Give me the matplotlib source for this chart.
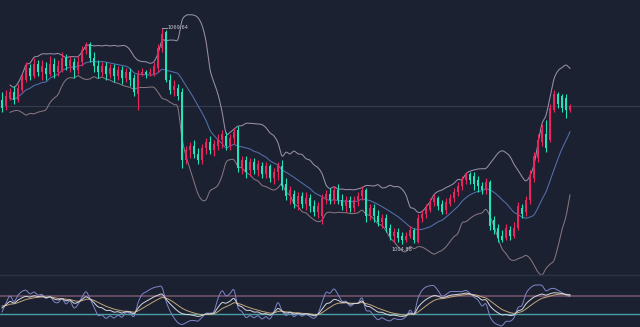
import numpy as np
import pandas as pd
import matplotlib
matplotlib.use("Agg")
import matplotlib.pyplot as plt

# ---- data ----
opens = [1048.0,1046.2,1048.6,1050.4,1048.0,1051.0,1054.0,1057.6,1055.2,1058.8,
         1056.4,1057.6,1055.8,1058.8,1056.4,1057.0,1060.6,1058.2,1059.4,1057.0,
         1059.4,1063.0,1064.8,1060.6,1058.2,1056.4,1058.2,1055.8,1057.6,1055.2,
         1057.0,1054.6,1056.4,1054.6,1049.8,1055.8,1056.4,1055.8,1055.8,1057.6,
         1063.6,1068.4,1054.0,1051.0,1051.6,1050.4,1030.0,1033.0,1034.2,1031.8,
         1030.0,1033.6,1035.4,1033.0,1034.2,1036.0,1037.2,1034.2,1036.6,1039.0,
         1027.6,1030.0,1027.0,1029.4,1027.0,1028.2,1025.8,1028.2,1024.6,1026.4,
         1028.2,1022.8,1019.2,1019.8,1016.8,1019.2,1016.8,1018.6,1016.2,1014.4,
         1013.2,1018.6,1019.8,1018.0,1021.0,1018.0,1016.2,1018.0,1015.6,1018.0,
         1019.2,1021.0,1013.2,1015.6,1013.2,1011.4,1012.6,1009.6,1007.2,1008.4,
         1007.2,1006.0,1007.2,1009.0,1005.4,1012.6,1013.8,1015.0,1017.4,1018.6,
         1016.8,1015.0,1016.8,1018.6,1020.4,1022.2,1024.0,1025.8,1025.2,1024.0,
         1022.2,1021.0,1023.4,1012.0,1009.6,1007.2,1006.6,1009.0,1007.2,1009.6,
         1015.6,1014.4,1018.0,1024.6,1030.6,1035.4,1037.8,1036.0,1045.0,1049.8,
         1049.2,1048.6,1045.0]
closes = [1045.6,1049.2,1050.4,1048.0,1051.6,1054.6,1057.6,1055.2,1058.8,1056.4,
          1058.2,1055.8,1058.8,1056.4,1058.2,1060.6,1058.2,1060.0,1057.0,1059.4,
          1063.0,1064.8,1060.6,1058.2,1056.4,1058.2,1055.8,1057.6,1055.2,1057.0,
          1054.6,1056.4,1054.0,1050.4,1055.8,1056.4,1055.8,1056.4,1058.2,1063.6,
          1067.8,1054.0,1051.0,1052.2,1049.2,1030.0,1033.0,1034.2,1031.8,1030.0,
          1033.6,1035.4,1033.0,1034.8,1036.0,1037.8,1034.2,1036.6,1038.4,1027.6,
          1030.0,1026.4,1029.4,1027.0,1028.8,1025.8,1028.2,1024.6,1026.4,1028.2,
          1022.2,1019.2,1021.0,1016.8,1019.2,1016.8,1018.6,1016.2,1014.4,1016.2,
          1018.6,1019.8,1018.0,1021.0,1018.0,1016.2,1018.0,1015.6,1018.0,1019.2,
          1021.0,1013.2,1015.6,1013.2,1011.4,1012.6,1009.6,1007.2,1008.4,1006.6,
          1006.0,1007.2,1009.0,1006.0,1012.6,1013.8,1015.6,1017.4,1018.6,1016.2,
          1014.4,1017.4,1018.6,1020.4,1022.2,1024.0,1025.8,1024.0,1022.8,1022.2,
          1021.0,1023.4,1010.2,1009.0,1006.6,1006.0,1009.6,1007.2,1009.6,1016.2,
          1013.8,1018.0,1025.2,1031.2,1036.0,1039.0,1033.6,1045.6,1049.8,1046.8,
          1045.6,1045.0,1046.2]
highs = [1050.4,1051.0,1051.6,1052.2,1052.8,1055.8,1059.4,1058.8,1060.6,1060.0,
         1060.0,1059.4,1061.2,1060.6,1060.0,1062.4,1061.8,1061.2,1060.6,1061.2,
         1064.2,1065.4,1065.4,1062.4,1060.0,1059.4,1059.4,1058.8,1058.8,1058.2,
         1058.2,1057.6,1057.6,1055.8,1057.0,1057.6,1057.0,1057.6,1059.4,1064.8,
         1069.64,1069.0,1055.8,1054.0,1052.8,1051.6,1034.2,1035.4,1036.0,1033.6,
         1034.8,1036.6,1037.2,1036.0,1037.8,1039.0,1038.4,1037.8,1039.6,1040.2,
         1031.2,1031.2,1030.6,1030.6,1030.0,1029.4,1029.4,1028.8,1027.6,1029.4,
         1030.0,1024.6,1022.2,1021.0,1020.4,1020.4,1020.4,1019.8,1018.0,1017.4,
         1019.8,1021.0,1021.6,1022.2,1022.8,1019.8,1019.2,1019.2,1019.2,1020.4,
         1022.2,1021.6,1016.8,1016.8,1015.0,1013.8,1013.8,1010.8,1009.6,1009.6,
         1008.4,1008.4,1010.2,1009.6,1013.8,1015.0,1016.8,1018.6,1019.8,1019.2,
         1018.0,1018.6,1019.8,1021.6,1023.4,1025.2,1026.4,1026.4,1026.4,1025.2,
         1023.4,1024.6,1024.0,1013.2,1010.8,1009.0,1010.8,1010.2,1011.4,1017.4,
         1016.8,1019.2,1027.0,1032.4,1037.8,1040.8,1042.0,1046.8,1051.0,1050.4,
         1049.8,1049.8,1046.8]
lows = [1044.4,1045.0,1048.0,1046.8,1047.4,1050.4,1053.4,1054.0,1054.6,1055.2,
        1054.0,1054.0,1055.2,1054.6,1055.2,1056.4,1057.0,1056.4,1054.6,1055.8,
        1058.2,1061.8,1059.4,1056.4,1054.6,1055.2,1054.0,1054.6,1053.4,1054.0,
        1052.8,1053.4,1052.2,1049.2,1045.0,1055.2,1054.6,1055.2,1055.2,1056.4,
        1062.4,1053.4,1049.8,1049.2,1048.0,1027.6,1028.8,1030.6,1030.6,1028.8,
        1028.8,1031.8,1031.8,1031.2,1033.0,1033.6,1033.0,1033.0,1034.8,1026.4,
        1025.8,1024.6,1025.2,1025.8,1025.2,1024.6,1024.6,1023.4,1022.8,1024.0,
        1021.0,1018.0,1016.8,1015.6,1015.0,1015.6,1015.0,1014.4,1013.2,1012.6,
        1010.8,1016.8,1016.8,1016.8,1016.8,1015.0,1014.4,1014.4,1014.4,1016.2,
        1018.0,1011.4,1012.0,1011.4,1010.2,1009.6,1008.4,1006.0,1005.4,1005.4,
        1004.88,1005.4,1006.6,1005.1,1005.1,1011.4,1012.6,1014.4,1016.2,1015.0,
        1013.8,1013.8,1016.2,1017.4,1019.2,1021.0,1022.8,1022.8,1021.0,1020.4,
        1019.8,1019.8,1009.0,1007.8,1005.4,1005.4,1006.0,1006.0,1006.6,1009.0,
        1012.6,1013.2,1016.8,1023.4,1029.4,1034.2,1032.4,1035.4,1044.4,1045.6,
        1044.4,1042.6,1044.4]

BG = "#1b2131"
UP = "#e8265c"
DOWN = "#22e3b9"

o = np.array(opens); c = np.array(closes); h = np.array(highs); l = np.array(lows)
n = len(c)
idx = np.arange(n)

# Bollinger bands
s = pd.Series(c)
N = 12
mid = s.rolling(N, min_periods=3).mean().values
sd = s.rolling(N, min_periods=3).std(ddof=0).values
upper = mid + 2.0 * sd
lower = mid - 2.0 * sd

# KDJ
hh = pd.Series(h).rolling(9, min_periods=1).max().values
ll = pd.Series(l).rolling(9, min_periods=1).min().values
rsv = (c - ll) / np.where(hh - ll == 0, 1, hh - ll) * 100
K = np.zeros(n); D = np.zeros(n)
kp, dp = 50.0, 50.0
for i in range(n):
    kp = 2 / 3 * kp + rsv[i] / 3
    dp = 2 / 3 * dp + kp / 3
    K[i] = kp; D[i] = dp
J = 3 * K - 2 * D


def smooth(x, y, sub=6):
    """Catmull-Rom rendering of a series (like a 'smooth' line option)."""
    x = np.asarray(x, float); y = np.asarray(y, float)
    m = ~np.isnan(y)
    x, y = x[m], y[m]
    if len(x) < 3:
        return x, y
    xp = np.concatenate([[2 * x[0] - x[1]], x, [2 * x[-1] - x[-2]]])
    yp = np.concatenate([[2 * y[0] - y[1]], y, [2 * y[-1] - y[-2]]])
    t = np.linspace(0, 1, sub, endpoint=False)
    xs, ys = [], []
    for i in range(1, len(xp) - 2):
        p0, p1, p2, p3 = yp[i - 1], yp[i], yp[i + 1], yp[i + 2]
        yy = 0.5 * ((2 * p1) + (-p0 + p2) * t + (2 * p0 - 5 * p1 + 4 * p2 - p3) * t ** 2
                    + (-p0 + 3 * p1 - 3 * p2 + p3) * t ** 3)
        xs.append(xp[i] + (xp[i + 1] - xp[i]) * t)
        ys.append(yy)
    xs.append([x[-1]]); ys.append([y[-1]])
    return np.concatenate(xs), np.concatenate(ys)


fig = plt.figure(figsize=(6.4, 3.27), dpi=100, facecolor=BG)
ax1 = fig.add_axes([0, 52 / 327, 1, 275 / 327], facecolor=BG)
ax2 = fig.add_axes([0, 0, 1, 52 / 327], facecolor=BG)
for ax in (ax1, ax2):
    ax.set_xlim(-0.5, 159.5)
    ax.axis("off")
ax1.set_ylim(995.5, 1078)
ax2.set_ylim(-23.3, 150)

# last price line
ax1.axhline(c[-1], color="#353c4c", lw=0.8, zorder=0)

# bands
ax1.plot(*smooth(idx, upper), color="#9a8eab", lw=0.75, zorder=1)
ax1.plot(*smooth(idx, mid), color="#5470ad", lw=0.75, zorder=1)
ax1.plot(*smooth(idx, lower), color="#85757e", lw=0.75, zorder=1)

# candles
cols = np.where(c >= o, UP, DOWN)
ax1.vlines(idx, l, h, colors=cols, lw=0.8, zorder=2)
bottom = np.minimum(o, c)
height = np.maximum(np.abs(c - o), 0.35)
ax1.bar(idx, height, bottom=bottom, width=0.7, color=cols, edgecolor=cols, lw=0, zorder=3)

# max / min labels
imax = int(np.argmax(h)); imin = int(np.argmin(l))
ax1.plot([imax, imax + 1.3], [h[imax], h[imax]], color="#aab0bc", lw=0.6, zorder=4)
ax1.text(imax + 1.5, h[imax], f"{h[imax]:.2f}", color="#c8ccd6", fontsize=3.6,
         va="center", ha="left", zorder=4)
ax1.text(imin, l[imin] - 0.9, f"{l[imin]:.2f}", color="#c8ccd6", fontsize=3.6,
         va="top", ha="center", zorder=4)

# oscillator panel
ax2.axhline(80, color="#664a61", lw=1.4, zorder=0)
ax2.axhline(20, color="#4a9ea4", lw=1.0, zorder=0)
ax2.plot(*smooth(idx, J), color="#7f86c8", lw=0.7)
ax2.plot(*smooth(idx, D), color="#c4a67a", lw=0.7)
ax2.plot(*smooth(idx, K), color="#d6d8e0", lw=0.7)

# separator
fig.add_artist(plt.Line2D([0, 1], [52 / 327, 52 / 327], color="#2c3343", lw=1.0))

fig.savefig("out.png", dpi=100, facecolor=BG)
